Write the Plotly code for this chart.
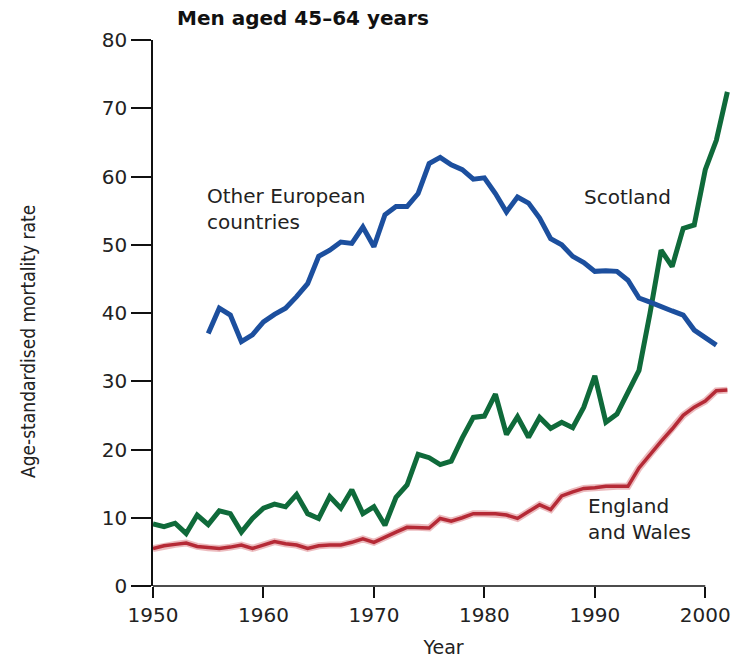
import plotly.graph_objects as go

# Age-standardised mortality rate, men aged 45-64
europe_years = list(range(1955, 2002))
europe_rate = [37.0, 40.7, 39.7, 35.8, 36.8, 38.7, 39.8, 40.7, 42.4, 44.3,
               48.3, 49.2, 50.4, 50.2, 52.6, 49.7, 54.4, 55.6, 55.6, 57.5,
               61.9, 62.8, 61.7, 61.0, 59.6, 59.8, 57.5, 54.8, 57.0, 56.1,
               53.9, 50.9, 50.0, 48.3, 47.4, 46.1, 46.2, 46.1, 44.8, 42.2,
               41.6, 40.9, 40.3, 39.7, 37.5, 36.4, 35.3]

scotland_years = list(range(1950, 2003))
scotland_rate = [9.1, 8.7, 9.2, 7.7, 10.4, 9.0, 11.0, 10.6, 7.9, 9.9,
                 11.4, 12.0, 11.6, 13.4, 10.6, 9.9, 13.1, 11.4, 14.1, 10.6,
                 11.6, 8.9, 13.0, 14.8, 19.3, 18.8, 17.8, 18.3, 21.7, 24.7,
                 24.9, 28.1, 22.2, 24.8, 21.8, 24.7, 23.1, 24.0, 23.2, 26.2,
                 30.8, 24.0, 25.2, 28.4, 31.6, 40.0, 49.2, 46.8, 52.4, 52.9,
                 61.0, 65.3, 72.4]

ew_years = list(range(1950, 2003))
ew_rate = [5.5, 5.9, 6.1, 6.3, 5.8, 5.6, 5.5, 5.7, 6.0, 5.5,
           6.0, 6.5, 6.2, 6.0, 5.5, 5.9, 6.0, 6.0, 6.4, 6.9,
           6.4, 7.2, 7.9, 8.6, 8.6, 8.5, 9.9, 9.5, 10.0, 10.6,
           10.6, 10.6, 10.4, 9.9, 10.9, 11.9, 11.2, 13.2, 13.8, 14.3,
           14.4, 14.6, 14.6, 14.6, 17.3, 19.3, 21.2, 23.0, 25.0, 26.2,
           27.1, 28.6, 28.7]

x_ticks = [1950, 1960, 1970, 1980, 1990, 2000]
y_ticks = [0, 10, 20, 30, 40, 50, 60, 70, 80]

BLUE = "#1c4f9e"
GREEN = "#0f6a3a"
RED = "#b52a36"
FONT = "DejaVu Sans"
TXT = "#222222"

fig = go.Figure()
# soft halo under England and Wales line
fig.add_trace(go.Scatter(x=ew_years, y=ew_rate, mode="lines",
                         line=dict(color="rgba(200,60,70,0.35)", width=7),
                         hoverinfo="skip", showlegend=False))
fig.add_trace(go.Scatter(x=ew_years, y=ew_rate, mode="lines",
                         line=dict(color=RED, width=3.5), name="England and Wales"))
fig.add_trace(go.Scatter(x=scotland_years, y=scotland_rate, mode="lines",
                         line=dict(color=GREEN, width=5), name="Scotland"))
fig.add_trace(go.Scatter(x=europe_years, y=europe_rate, mode="lines",
                         line=dict(color=BLUE, width=5), name="Other European countries"))

lab = dict(family=FONT, size=20, color=TXT)
fig.add_annotation(x=1954.7, y=55.3, xref="x", yref="y", text="Other European<br>countries",
                   showarrow=False, xanchor="left", yanchor="middle", align="left", font=lab)
fig.add_annotation(x=1988.8, y=57.0, xref="x", yref="y", text="Scotland",
                   showarrow=False, xanchor="left", yanchor="middle", align="left", font=lab)
fig.add_annotation(x=1989.2, y=9.8, xref="x", yref="y", text="England<br>and Wales",
                   showarrow=False, xanchor="left", yanchor="middle", align="left", font=lab)
fig.add_annotation(x=0.038, y=1.015, xref="paper", yref="paper", text="<b>Men aged 45–64 years</b>",
                   showarrow=False, xanchor="left", yanchor="bottom",
                   font=dict(family=FONT, size=20, color="#111111"))
# y axis title, placed a little below the plot centre as in the original
fig.add_annotation(x=-0.215, y=0.447, xref="paper", yref="paper",
                   text="Age-standardised mortality rate", textangle=-90,
                   showarrow=False, xanchor="center", yanchor="middle",
                   font=dict(family="Liberation Sans Narrow, DejaVu Sans Condensed, DejaVu Sans",
                             size=19, color=TXT))

# x axis line stops at the 2000 tick
fig.add_shape(type="line", xref="x", yref="paper", x0=1950, x1=2000, y0=0, y1=0,
              line=dict(color="#111111", width=1.5))

fig.update_layout(
    width=740, height=670,
    margin=dict(l=153, r=6, t=40, b=84),
    plot_bgcolor="white", paper_bgcolor="white",
    showlegend=False,
    xaxis=dict(range=[1950, 2002.6], tickvals=x_ticks, ticks="outside", ticklen=11,
               tickwidth=1.5, tickcolor="#111111", showline=False, showgrid=False,
               zeroline=False, tickfont=dict(family=FONT, size=20, color=TXT),
               title=dict(text="Year", font=dict(family=FONT, size=19, color=TXT),
                          standoff=14)),
    yaxis=dict(range=[0, 80], tickvals=y_ticks, ticks="outside", ticklen=20,
               tickwidth=1.5, tickcolor="#111111", showline=True, linecolor="#111111",
               linewidth=1.5, showgrid=False, zeroline=False,
               tickfont=dict(family=FONT, size=20, color=TXT)),
)

fig.write_html("out.html", config={"displayModeBar": False},
               post_script="document.body.style.margin='0';")
